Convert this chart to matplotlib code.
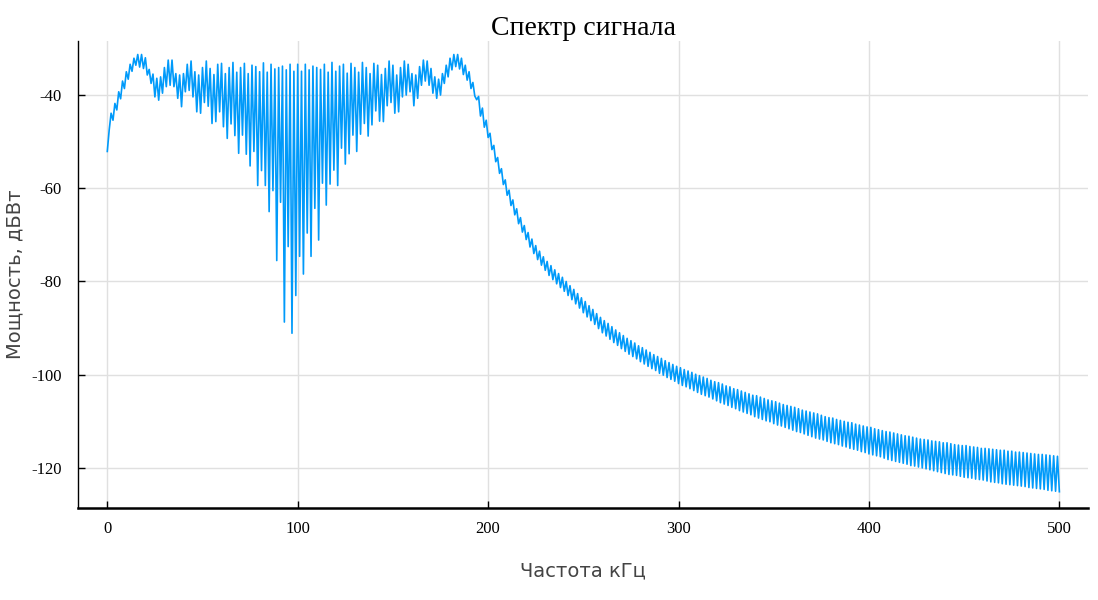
import numpy as np
import matplotlib
matplotlib.use('Agg')
import matplotlib.pyplot as plt

plt.rcParams['axes.unicode_minus'] = False

# signal spectrum, one value per kHz (0..500 kHz), each row = 10 kHz
power_db = [
    -52.1, -47.5, -43.9, -45.4, -41.8, -43.2, -39.3, -40.8, -37.0, -38.6,
    -35.0, -36.6, -33.4, -34.9, -32.1, -33.6, -31.3, -34.0, -31.3, -34.3,
    -32.0, -35.7, -34.5, -37.5, -35.5, -40.4, -36.4, -41.1, -36.1, -39.6,
    -34.1, -38.2, -32.5, -37.9, -32.5, -38.2, -35.4, -40.7, -35.7, -42.5,
    -35.4, -39.3, -33.4, -39.0, -32.7, -40.4, -35.0, -43.6, -35.7, -43.9,
    -34.1, -41.6, -32.7, -42.4, -34.3, -46.1, -35.6, -45.7, -33.4, -43.6,
    -33.2, -46.8, -35.4, -49.3, -34.1, -46.2, -33.0, -48.7, -35.1, -52.5,
    -34.1, -48.6, -33.2, -52.7, -35.4, -55.2, -33.6, -52.1, -33.9, -59.4,
    -35.0, -56.2, -33.1, -59.4, -35.1, -65.0, -33.4, -60.5, -34.4, -75.5,
    -34.1, -63.0, -33.8, -88.7, -34.6, -72.5, -33.4, -91.1, -34.9, -83.0,
    -33.4, -74.6, -34.9, -78.4, -33.4, -69.6, -34.6, -74.6, -33.8, -64.3,
    -34.1, -71.1, -34.5, -58.9, -33.4, -63.6, -35.1, -59.1, -33.0, -56.1,
    -34.9, -59.4, -33.8, -51.4, -33.4, -54.8, -35.3, -52.6, -33.2, -48.6,
    -34.1, -52.1, -35.1, -48.4, -33.0, -46.1, -34.1, -48.8, -35.4, -46.4,
    -33.2, -43.4, -33.6, -45.6, -35.6, -45.7, -34.3, -42.3, -32.7, -41.6,
    -33.6, -43.9, -35.7, -43.6, -34.1, -40.4, -32.7, -40.0, -33.4, -39.3,
    -35.4, -42.3, -35.7, -40.7, -33.9, -37.9, -32.5, -37.0, -32.7, -37.9,
    -34.3, -39.6, -36.1, -40.7, -36.6, -40.0, -35.4, -37.5, -33.6, -36.1,
    -32.1, -34.6, -31.3, -33.9, -31.3, -34.4, -32.1, -35.6, -33.6, -36.8,
    -35.0, -38.6, -37.3, -40.2, -41.0, -40.3, -44.5, -42.8, -46.9, -45.4,
    -49.1, -48.2, -51.7, -50.8, -54.3, -53.4, -56.8, -55.8, -59.2, -58.2,
    -61.5, -60.4, -63.7, -62.5, -65.7, -64.4, -67.6, -66.3, -69.4, -68.0,
    -71.0, -69.5, -72.6, -70.9, -74.0, -72.3, -75.3, -73.5, -76.5, -74.7,
    -77.6, -75.7, -78.7, -76.6, -79.6, -77.5, -80.5, -78.3, -81.3, -79.1,
    -82.1, -80.0, -83.0, -80.9, -83.9, -81.7, -84.8, -82.6, -85.7, -83.5,
    -86.7, -84.3, -87.6, -85.2, -88.4, -86.0, -89.2, -86.9, -90.1, -87.7,
    -91.0, -88.4, -91.7, -89.0, -92.4, -89.7, -93.1, -90.4, -93.7, -91.0,
    -94.4, -91.6, -95.0, -92.2, -95.6, -92.7, -96.1, -93.2, -96.6, -93.8,
    -97.2, -94.2, -97.7, -94.7, -98.2, -95.2, -98.7, -95.7, -99.1, -96.1,
    -99.7, -96.5, -100.1, -97.0, -100.6, -97.4, -101.0, -97.8, -101.4, -98.2,
    -101.9, -98.5, -102.3, -98.9, -102.6, -99.2, -103.0, -99.5, -103.4, -99.9,
    -103.8, -100.2, -104.2, -100.5, -104.5, -100.8, -104.8, -101.2, -105.2, -101.5,
    -105.6, -101.7, -106.0, -102.0, -106.3, -102.4, -106.6, -102.6, -107.0, -103.0,
    -107.3, -103.2, -107.7, -103.5, -108.0, -103.8, -108.3, -104.1, -108.6, -104.4,
    -109.0, -104.5, -109.3, -104.8, -109.6, -105.1, -109.9, -105.4, -110.1, -105.6,
    -110.5, -105.8, -110.8, -106.1, -111.0, -106.4, -111.3, -106.6, -111.6, -106.8,
    -111.9, -107.0, -112.2, -107.3, -112.4, -107.6, -112.7, -107.8, -113.0, -108.0,
    -113.3, -108.2, -113.6, -108.4, -113.8, -108.7, -114.0, -109.0, -114.3, -109.2,
    -114.6, -109.3, -114.8, -109.6, -115.0, -109.8, -115.3, -110.0, -115.5, -110.2,
    -115.8, -110.3, -116.0, -110.6, -116.2, -110.8, -116.5, -111.0, -116.7, -111.2,
    -117.0, -111.3, -117.2, -111.6, -117.4, -111.8, -117.6, -112.0, -117.9, -112.2,
    -118.2, -112.3, -118.4, -112.5, -118.6, -112.7, -118.8, -112.9, -119.0, -113.1,
    -119.2, -113.2, -119.5, -113.4, -119.6, -113.6, -119.8, -113.8, -120.0, -113.9,
    -120.2, -114.0, -120.4, -114.2, -120.6, -114.3, -120.8, -114.4, -121.0, -114.6,
    -121.2, -114.6, -121.4, -114.8, -121.5, -115.0, -121.6, -115.1, -121.8, -115.2,
    -122.0, -115.2, -122.1, -115.4, -122.2, -115.5, -122.4, -115.6, -122.5, -115.8,
    -122.6, -115.8, -122.8, -115.9, -123.0, -116.0, -123.1, -116.1, -123.2, -116.2,
    -123.4, -116.2, -123.5, -116.4, -123.6, -116.4, -123.7, -116.6, -123.8, -116.6,
    -123.9, -116.7, -124.0, -116.8, -124.2, -116.9, -124.3, -117.0, -124.4, -117.1,
    -124.5, -117.1, -124.6, -117.2, -124.8, -117.3, -124.9, -117.4, -125.0, -117.5,
    -125.1,
]
freq_khz = np.arange(len(power_db))  # 1 kHz step

x_ticks = [0, 100, 200, 300, 400, 500]
y_ticks = [-120, -100, -80, -60, -40]

title = 'Спектр сигнала'
x_label = 'Частота кГц'
y_label = 'Мощность, дБВт'


fig = plt.figure(figsize=(10.98, 6.0), dpi=100)
ax = fig.add_axes([0.071, 0.1533, 0.920, 0.7784])

ax.plot(freq_khz, power_db, color='#009AFA', linewidth=1.2)

ax.set_xlim(-15.4, 515.1)
ax.set_ylim(-128.6, -28.4)
ax.set_xticks(x_ticks)
ax.set_yticks(y_ticks)
ax.grid(True, color='#e0e0e0', linewidth=1.0)
ax.set_axisbelow(True)

for side in ['top', 'right']:
    ax.spines[side].set_visible(False)
ax.spines['left'].set_linewidth(1.0)
ax.spines['bottom'].set_linewidth(1.8)

ax.tick_params(direction='in', length=5, width=1, colors='black')
ax.tick_params(axis='x', pad=9)
ax.tick_params(axis='y', pad=11.5)
for lbl in ax.get_xticklabels() + ax.get_yticklabels():
    lbl.set_fontfamily('Liberation Serif')
    lbl.set_fontsize(12)

ax.set_title(title, fontfamily='Liberation Serif', fontsize=20, pad=4)
ax.set_xlabel(x_label, fontfamily='DejaVu Sans', fontsize=14, color='#444444', labelpad=18)
ax.set_ylabel(y_label, fontfamily='DejaVu Sans', fontsize=14, color='#444444')
ax.yaxis.set_label_coords(-0.0535, 0.5)

fig.savefig('out.png', dpi=100)
